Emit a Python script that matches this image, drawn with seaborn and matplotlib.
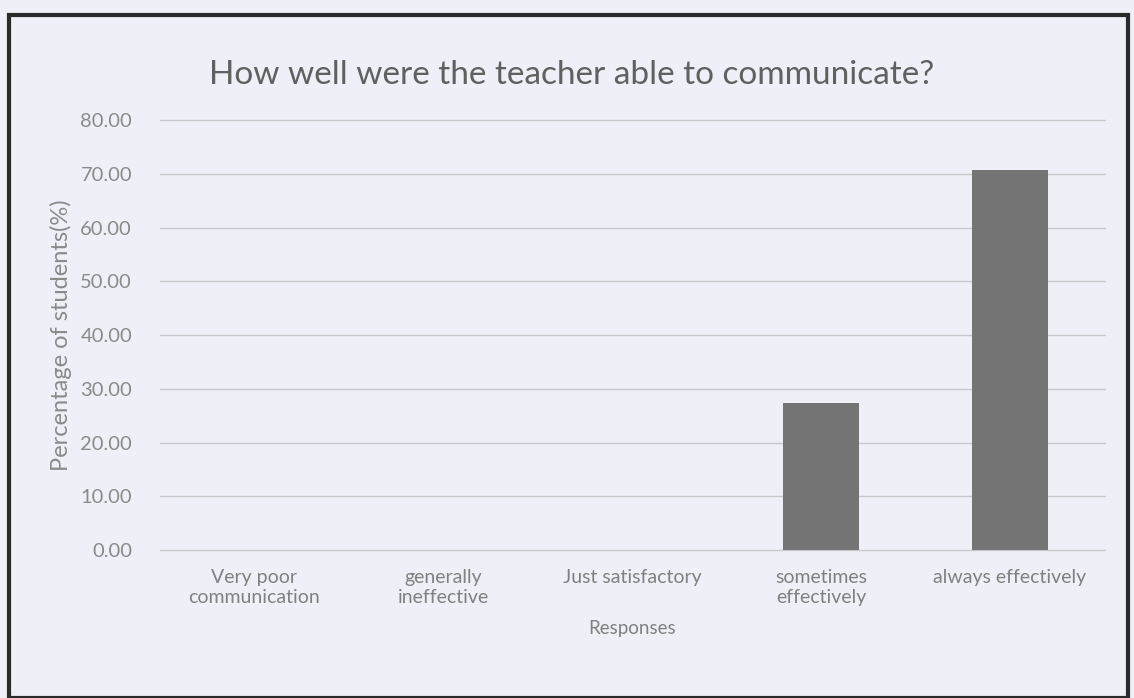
import seaborn as sns
import matplotlib.pyplot as plt
import pandas as pd
from matplotlib.patches import Rectangle

# data
responses = ["Very poor\ncommunication", "generally\nineffective", "Just satisfactory",
             "sometimes\neffectively", "always effectively"]
percent = [0.0, 0.0, 0.0, 27.3, 70.8]
y_ticks = [0, 10, 20, 30, 40, 50, 60, 70, 80]

df = pd.DataFrame({"Responses": responses, "Percent": percent})

sns.set_style("white")
plt.rcParams['font.family'] = ['Lato', 'DejaVu Sans']

bg = '#eff0f7'
fig = plt.figure(figsize=(11.34, 6.98), dpi=100, facecolor=bg)
ax = fig.add_axes([0.141, 0.212, 0.833, 0.616], facecolor=bg)

sns.barplot(data=df, x="Responses", y="Percent", color='#747474', width=0.4,
            saturation=1, linewidth=0, ax=ax, zorder=3)

ax.set_ylim(0, 80)
ax.set_yticks(y_ticks)
ax.set_yticklabels([f"{v:.2f}" for v in y_ticks], color='#8a8a8a', fontsize=14.5)
ax.tick_params(axis='x', colors='#808080', labelsize=14, length=0, pad=14)
ax.tick_params(axis='y', length=0, pad=20)
ax.yaxis.grid(True, color='#c8c8cc', linewidth=1, zorder=0)
for line in ax.get_ygridlines():
    line.set_clip_on(False)
for s in ax.spines.values():
    s.set_visible(False)

ax.set_xlabel("Responses", color='#808080', fontsize=13.5, labelpad=10)
ax.set_ylabel("Percentage of students(%)", color='#8a8a8a', fontsize=17, labelpad=6)
fig.text(0.504, 0.892, "How well were the teacher able to communicate?",
         ha='center', va='center', fontsize=24, color='#606060')

# chart border
fig.patches.append(Rectangle((0.008, 0.0), 0.987, 0.978, transform=fig.transFigure,
                             fill=False, edgecolor='#2a2a2a', linewidth=3))

fig.savefig("out.png", dpi=100, facecolor=bg)
